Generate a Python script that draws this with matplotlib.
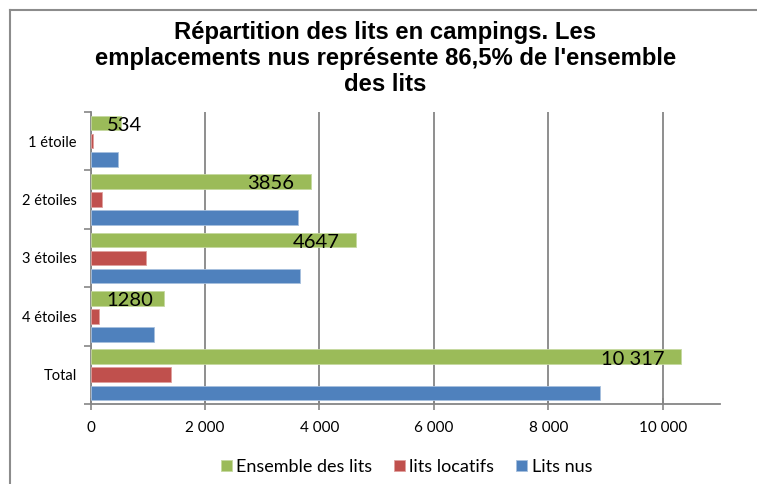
import numpy as np
import matplotlib.pyplot as plt
from matplotlib.lines import Line2D
from matplotlib.ticker import FuncFormatter, MultipleLocator

categories = ['1 étoile', '2 étoiles', '3 étoiles', '4 étoiles', 'Total']
ensemble = [534, 3856, 4647, 1280, 10317]
locatifs = [38, 206, 975, 154, 1406]
nus = [480, 3630, 3660, 1109, 8912]
labels = ['534', '3856', '4647', '1280', '10 317']

green = '#9BBB59'
red = '#C0504D'
blue = '#4F81BD'
grid_col = '#868686'

plt.rcParams['font.family'] = ['Lato', 'DejaVu Sans']

fig = plt.figure(figsize=(7.57, 4.84), dpi=100)
ax = fig.add_axes([0.1196, 0.1653, 0.8314, 0.6033])

y = np.arange(len(categories))
h = 0.25
off = 0.31
ax.barh(y - off, ensemble, height=h, color=green, edgecolor='#c5d9a0', linewidth=0.6,
        label='Ensemble des lits', zorder=3)
ax.barh(y, locatifs, height=h, color=red, edgecolor='#e0a09e', linewidth=0.6,
        label='lits locatifs', zorder=3)
ax.barh(y + off, nus, height=h, color=blue, edgecolor='#a7c0de', linewidth=0.6,
        label='Lits nus', zorder=3)

# data labels on the green bars
for yi, v, t in zip(y, ensemble, labels):
    if v < 2000:
        ax.text(280, yi - off + 0.04, t, ha='left', va='center', fontsize=14.5, zorder=4)
    else:
        ax.text(v - 290, yi - off + 0.04, t, ha='right', va='center', fontsize=14.5, zorder=4)

ax.set_xlim(0, 11000)
ax.set_ylim(len(categories) - 0.5, -0.5)
ax.xaxis.set_major_locator(MultipleLocator(2000))
ax.xaxis.set_major_formatter(FuncFormatter(lambda v, p: f'{int(v):,}'.replace(',', ' ')))
ax.set_yticks(y)
ax.set_yticklabels(categories, fontsize=10.5)
ax.set_yticks(np.arange(len(categories) + 1) - 0.5, minor=True)
ax.tick_params(axis='y', which='major', length=0, pad=10)
ax.tick_params(axis='y', which='minor', length=5, width=1.2, color=grid_col, direction='out')
ax.tick_params(axis='x', length=8, width=1.2, color=grid_col, direction='inout', labelsize=11, pad=8)

ax.grid(axis='x', color=grid_col, linewidth=1.3, zorder=0)
for s in ['top', 'right']:
    ax.spines[s].set_visible(False)
for s in ['left', 'bottom']:
    ax.spines[s].set_color(grid_col)
    ax.spines[s].set_linewidth(1.3)

fig.text(0.509, 0.957,
         "Répartition des lits en campings. Les\nemplacements nus représente 86,5% de l'ensemble\ndes lits",
         ha='center', va='top', fontsize=17.2, fontweight='bold', family='Liberation Sans',
         linespacing=1.17)

fig.legend(loc='center', bbox_to_anchor=(0.537, 0.035), ncol=3, frameon=False, fontsize=13,
           handlelength=0.6, handleheight=0.6, handletextpad=0.25, columnspacing=1.2)

# chart frame (top and left edges visible)
fig.add_artist(Line2D([0.0132, 1.0], [0.979, 0.979], color='#8c8c8c', linewidth=1.5))
fig.add_artist(Line2D([0.0132, 0.0132], [0.0, 0.979], color='#8c8c8c', linewidth=1.5))

fig.savefig('out.png', dpi=100)
